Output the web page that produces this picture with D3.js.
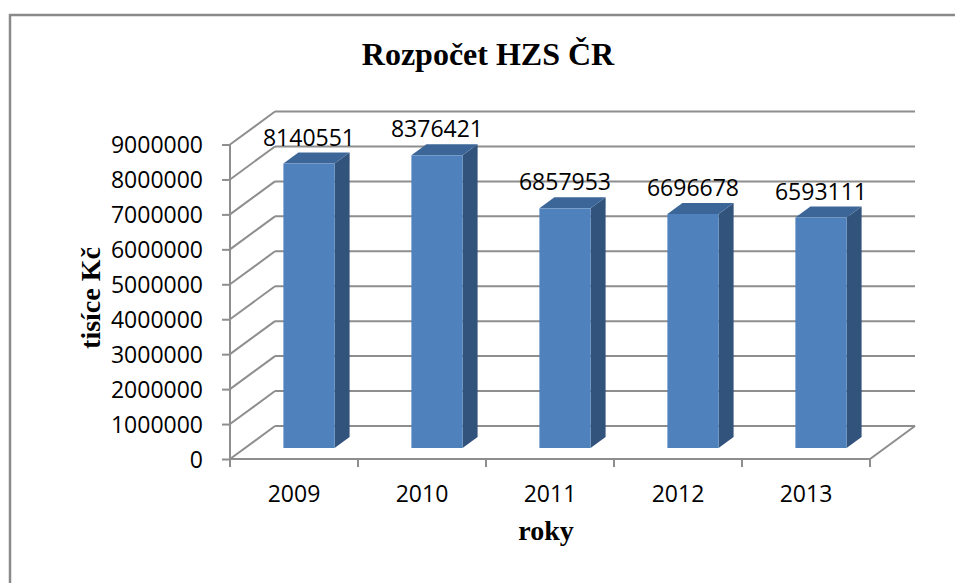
<!DOCTYPE html>
<html>
<head>
<meta charset="utf-8">
<script src="https://cdn.jsdelivr.net/npm/d3@7"></script>
<style>
  html, body { margin: 0; background: #fff; overflow: hidden; }
  svg { display: block; }
</style>
</head>
<body>
<div id="chart"></div>
<script>
// data
var years = ['2009', '2010', '2011', '2012', '2013'];
var budget = [8140551, 8376421, 6857953, 6696678, 6593111];
var yTicks = [0, 1000000, 2000000, 3000000, 4000000, 5000000, 6000000, 7000000, 8000000, 9000000];

var width = 955,
    height = 583;

// oblique 3d depth of the plot box
var depthX = 45,
    depthY = -33;

var svg = d3.select('#chart').append('svg')
    .attr('width', width)
    .attr('height', height);

// chart frame: only the top and left edges are inside the picture
svg.append('path')
    .attr('d', 'M10,' + height + 'L10,15L' + width + ',15')
    .style('fill', 'none')
    .style('stroke', '#8a8a8a')
    .style('stroke-width', 2.5);

var x = d3.scaleBand()
    .domain(years)
    .range([230, 870]);

var y = d3.scaleLinear()
    .domain([0, 9000000])
    .range([459, 144.5]);

var gridColor = '#8e8e8e';

var walls = svg.append('g')
    .style('stroke', gridColor)
    .style('stroke-width', 2)
    .style('fill', 'none');

// back wall gridlines
walls.selectAll('line.back')
    .data(yTicks)
    .enter()
    .append('line')
    .attr('class', 'back')
    .attr('x1', x.range()[0] + depthX)
    .attr('x2', x.range()[1] + depthX)
    .attr('y1', function(d) { return y(d) + depthY; })
    .attr('y2', function(d) { return y(d) + depthY; });

// side wall gridlines
walls.selectAll('line.side')
    .data(yTicks)
    .enter()
    .append('line')
    .attr('class', 'side')
    .attr('x1', x.range()[0])
    .attr('x2', x.range()[0] + depthX)
    .attr('y1', function(d) { return y(d); })
    .attr('y2', function(d) { return y(d) + depthY; });

// floor front and right edges
walls.append('path')
    .attr('d', 'M' + x.range()[0] + ',' + y(0) +
        'L' + x.range()[1] + ',' + y(0) +
        'L' + (x.range()[1] + depthX) + ',' + (y(0) + depthY));

// vertical axis with ticks
var yAxis = d3.axisLeft(y)
    .tickValues(yTicks)
    .tickSize(8)
    .tickPadding(19)
    .tickFormat(d3.format('d'));

var yg = svg.append('g')
    .attr('transform', 'translate(' + x.range()[0] + ',0)')
    .call(yAxis);
yg.select('.domain').remove();
yg.selectAll('line').style('stroke', gridColor).style('stroke-width', 2);
yg.append('line')
    .attr('x1', 0).attr('x2', 0)
    .attr('y1', y(9000000)).attr('y2', y(0) + 1)
    .style('stroke', gridColor).style('stroke-width', 2);
yg.selectAll('text')
    .attr('dy', '0.36em')
    .style('font-family', '"Open Sans", sans-serif')
    .style('font-size', '23px')
    .style('fill', '#000');

// horizontal axis ticks and labels
var xAxis = d3.axisBottom(x)
    .tickSize(0)
    .tickPadding(0);

var xg = svg.append('g')
    .attr('transform', 'translate(0,' + y(0) + ')')
    .call(xAxis);
xg.select('.domain').remove();
xg.selectAll('text')
    .attr('y', 43)
    .attr('dy', 0)
    .style('font-family', '"Open Sans", sans-serif')
    .style('font-size', '23px')
    .style('fill', '#000');

var bounds = years.map(function(d) { return x(d); }).concat([x.range()[1]]);
xg.selectAll('line.bound')
    .data(bounds)
    .enter()
    .append('line')
    .attr('class', 'bound')
    .attr('x1', function(d) { return d; })
    .attr('x2', function(d) { return d; })
    .attr('y1', 0)
    .attr('y2', 8)
    .style('stroke', gridColor)
    .style('stroke-width', 2);

// 3d columns: front face a third of the way into the box
var barW = x.bandwidth() * 0.4,
    offX = depthX / 3,
    offY = depthY / 3;

var bars = svg.append('g').selectAll('g.bar')
    .data(years)
    .enter()
    .append('g')
    .attr('class', 'bar');

function frontLeft(d) { return x(d) + x.bandwidth() / 2 - barW / 2 + offX; }
function frontTop(d, i) { return y(budget[i]) + offY; }
var bottom = y(0) + offY;

bars.append('path')
    .attr('d', function(d, i) {
        var l = frontLeft(d), r = l + barW, t = frontTop(d, i);
        return 'M' + r + ',' + t + 'L' + (r + offX) + ',' + (t + offY) +
            'L' + (r + offX) + ',' + (bottom + offY) + 'L' + r + ',' + bottom + 'Z';
    })
    .style('fill', '#32537c');

bars.append('path')
    .attr('d', function(d, i) {
        var l = frontLeft(d), r = l + barW, t = frontTop(d, i);
        return 'M' + l + ',' + t + 'L' + (l + offX) + ',' + (t + offY) +
            'L' + (r + offX) + ',' + (t + offY) + 'L' + r + ',' + t + 'Z';
    })
    .style('fill', '#3d6698');

bars.append('rect')
    .attr('x', frontLeft)
    .attr('y', frontTop)
    .attr('width', barW)
    .attr('height', function(d, i) { return bottom - frontTop(d, i); })
    .style('fill', '#4f81bd');

// value labels above the columns
bars.append('text')
    .attr('x', function(d) { return frontLeft(d) + barW / 2; })
    .attr('y', function(d, i) { return frontTop(d, i) + offY - 7; })
    .attr('text-anchor', 'middle')
    .style('font-family', '"Open Sans", sans-serif')
    .style('font-size', '23px')
    .style('fill', '#000')
    .text(function(d, i) { return budget[i]; });

// titles
svg.append('text')
    .attr('x', 488)
    .attr('y', 65)
    .attr('text-anchor', 'middle')
    .style('font-family', '"Liberation Serif", "Times New Roman", serif')
    .style('font-weight', 'bold')
    .style('font-size', '32px')
    .text('Rozpočet HZS ČR');

svg.append('text')
    .attr('transform', 'translate(100,298) rotate(-90)')
    .attr('text-anchor', 'middle')
    .style('font-family', '"Liberation Serif", "Times New Roman", serif')
    .style('font-weight', 'bold')
    .style('font-size', '28px')
    .text('tisíce Kč');

svg.append('text')
    .attr('x', 546)
    .attr('y', 540)
    .attr('text-anchor', 'middle')
    .style('font-family', '"Liberation Serif", "Times New Roman", serif')
    .style('font-weight', 'bold')
    .style('font-size', '28px')
    .text('roky');
</script>
</body>
</html>
